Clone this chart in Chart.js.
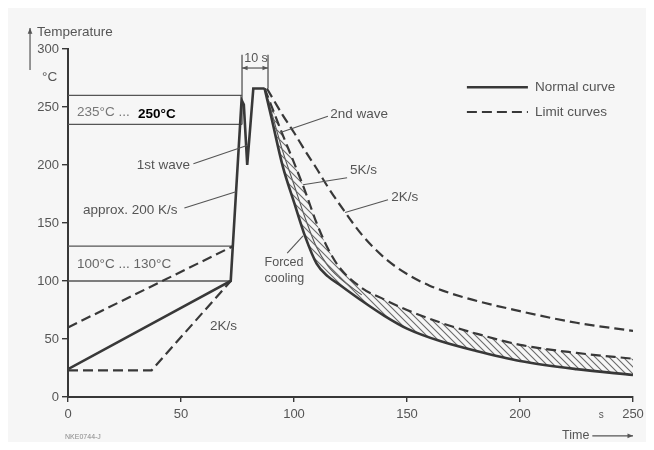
<!DOCTYPE html>
<html lang="en">
<head>
<meta charset="UTF-8">
<title>Wave soldering profile</title>
<script src="https://cdn.jsdelivr.net/npm/chart.js"></script>
<style>
  html, body { margin: 0; padding: 0; background: #fff; }
  #wrap { width: 654px; height: 450px; }
</style>
</head>
<body>
<div id="wrap"><canvas id="profileChart"></canvas></div>
<script>
// tick labels
const timeTicks = [0, 50, 100, 150, 200, 250];
const tempTicks = [0, 50, 100, 150, 200, 250, 300];

// normal curve: preheat, 1st wave, 2nd wave
const normalTime = [0, 72, 76.8, 77.8, 79.3, 82, 87];
const normalTemp = [24, 100, 256, 252, 200, 266, 266];

// cooling, same time base for both edges of the hatched band
const coolTime   = [87, 90, 95, 100, 105, 110, 115, 120, 130, 140, 150, 165, 180, 200, 225, 250];
const coolNormal = [266, 241, 199, 168, 138, 115, 104, 97, 83, 70, 59, 48, 40, 31, 24, 19];
const cool5Ks    = [266, 251, 226, 202, 177, 150, 128, 112, 94, 84, 75, 64, 55, 45, 38, 33];

// thin line inside the band near the peak
const midTime = [87, 90, 95, 100, 105, 110, 115, 120, 130];
const midTemp = [266, 246, 212, 183, 154, 129, 113, 103, 88];

// 2 K/s limit curve
const slowTime = [88, 95, 100, 105, 110, 115, 122, 130, 140, 150, 160, 175, 200, 225, 250];
const slowTemp = [266, 243, 228, 212, 197, 181, 161, 140, 120, 106, 96, 86, 74, 64, 57];

// preheat limit curves
const upperTime = [0, 73];
const upperTemp = [60, 130];
const lowerTime = [0, 37, 72];
const lowerTemp = [23, 23, 100];

// reference temperatures (235..260 wave, 100..130 preheat) and where they stop
const refTemps = [260, 235, 130, 100];
const refEnds  = [77, 77, 73, 72];

// "10 s" bracket
const bracketTime = [77, 88.5];
const bracketFrom = [235, 266];
const bracketTop = 295;

const ink = '#383838';
const textCol = '#555';
const fontFam = '"Liberation Sans", Arial, sans-serif';

function pts(xs, ys) {
    return xs.map((x, i) => ({ x: x, y: ys[i] }));
}

// diagonal hatch for the band
function hatch() {
    const c = document.createElement('canvas');
    c.width = 7; c.height = 7;
    const g = c.getContext('2d');
    g.strokeStyle = '#6a6a6a';
    g.lineWidth = 1.1;
    g.beginPath();
    g.moveTo(-1, -1); g.lineTo(8, 8);
    g.moveTo(-1, 6); g.lineTo(1, 8);
    g.moveTo(6, -1); g.lineTo(8, 1);
    g.stroke();
    return g.createPattern(c, 'repeat');
}

const solid = { borderColor: ink, borderWidth: 2.6, pointRadius: 0, fill: false, tension: 0 };
const dashed = { borderColor: ink, borderWidth: 2.2, borderDash: [10, 5], pointRadius: 0, fill: false, tension: 0 };
const thin = { borderColor: '#555', borderWidth: 1.3, pointRadius: 0, fill: false, tension: 0 };

const datasets = [
    Object.assign({ data: pts(normalTime, normalTemp) }, solid),
    Object.assign({ data: pts(coolTime, coolNormal), cubicInterpolationMode: 'monotone' }, solid),
    Object.assign({ data: pts(coolTime, cool5Ks), cubicInterpolationMode: 'monotone' }, dashed,
        { fill: { target: 1 }, backgroundColor: hatch() }),
    Object.assign({ data: pts(midTime, midTemp), cubicInterpolationMode: 'monotone' }, thin, { borderWidth: 1.1 }),
    Object.assign({ data: pts(slowTime, slowTemp), cubicInterpolationMode: 'monotone' }, dashed),
    Object.assign({ data: pts(upperTime, upperTemp) }, dashed),
    Object.assign({ data: pts(lowerTime, lowerTemp) }, dashed)
];
refTemps.forEach((t, i) => {
    datasets.push(Object.assign({ data: [{ x: 0, y: t }, { x: refEnds[i], y: t }] }, thin));
});
bracketTime.forEach((t, i) => {
    datasets.push(Object.assign({ data: [{ x: t, y: bracketFrom[i] }, { x: t, y: bracketTop }] }, thin));
});

// texts in data units (s, °C)
const notes = [
    { t: 'Temperature', x: -13.7, y: 314.5 },
    { t: '°C', x: -11.5, y: 276 },
    { t: '10 s', x: 83.2, y: 292, align: 'center', size: 12.5 },
    { t: '235°C ...', x: 4, y: 245.5, col: '#777' },
    { t: '250°C', x: 31, y: 243.5, col: '#000', bold: true },
    { t: '1st wave', x: 54, y: 200, align: 'right' },
    { t: 'approx. 200 K/s', x: 6.6, y: 161 },
    { t: '100°C ... 130°C', x: 4, y: 114.7, col: '#666' },
    { t: '2K/s', x: 62.8, y: 61 },
    { t: 'Forced', x: 87, y: 116, size: 12.5 },
    { t: 'cooling', x: 87, y: 102.5, size: 12.5 },
    { t: '2nd wave', x: 116, y: 244 },
    { t: '5K/s', x: 124.8, y: 195.7 },
    { t: '2K/s', x: 143, y: 172.4 },
    { t: 'Normal curve', x: 206.6, y: 267 },
    { t: 'Limit curves', x: 206.6, y: 245.7 },
    { t: 's', x: 236, y: -15.5, align: 'center', size: 10 },
    { t: 'Time', x: 218.6, y: -33.5, size: 12.5 },
    { t: 'NKE0744-J', x: -1.3, y: -34.5, size: 7, col: '#888' }
];
const leaders = [
    [55.5, 201, 79.5, 217],
    [51.5, 163, 74.3, 177],
    [97, 124, 104, 139],
    [115, 242, 94, 228],
    [123.5, 189, 104, 183],
    [141.6, 170, 122.6, 159]
];

const annotate = {
    id: 'annotate',
    beforeDraw(chart) {
        const c = chart.ctx;
        c.save();
        c.fillStyle = '#fff';
        c.fillRect(0, 0, chart.width, chart.height);
        c.fillStyle = '#f6f6f6';
        c.fillRect(8, 8, chart.width - 16, chart.height - 16);
        c.restore();
    },
    afterDraw(chart) {
        const c = chart.ctx;
        const sx = chart.scales.x, sy = chart.scales.y;
        const X = v => sx.getPixelForValue(v), Y = v => sy.getPixelForValue(v);
        c.save();
        c.strokeStyle = '#555';
        c.lineWidth = 1.1;
        leaders.forEach(l => {
            c.beginPath();
            c.moveTo(X(l[0]), Y(l[1]));
            c.lineTo(X(l[2]), Y(l[3]));
            c.stroke();
        });

        // legend samples
        c.strokeStyle = ink;
        c.lineWidth = 2.6;
        c.beginPath(); c.moveTo(X(176.5), Y(267)); c.lineTo(X(203.5), Y(267)); c.stroke();
        c.lineWidth = 2.2;
        c.setLineDash([10, 5]);
        c.beginPath(); c.moveTo(X(176.5), Y(245.7)); c.lineTo(X(203.5), Y(245.7)); c.stroke();
        c.setLineDash([]);

        // arrows
        function arrow(x1, y1, x2, y2, both) {
            const a = Math.atan2(y2 - y1, x2 - x1);
            c.beginPath(); c.moveTo(x1, y1); c.lineTo(x2, y2); c.stroke();
            const head = (x, y, ang) => {
                c.beginPath();
                c.moveTo(x, y);
                c.lineTo(x - 6 * Math.cos(ang - 0.4), y - 6 * Math.sin(ang - 0.4));
                c.lineTo(x - 6 * Math.cos(ang + 0.4), y - 6 * Math.sin(ang + 0.4));
                c.closePath(); c.fill();
            };
            head(x2, y2, a);
            if (both) head(x1, y1, a + Math.PI);
        }
        c.fillStyle = '#555';
        c.strokeStyle = '#555';
        c.lineWidth = 1.2;
        arrow(X(-16.8), Y(282), X(-16.8), Y(318));
        arrow(X(77), Y(283.6), X(88.5), Y(283.6), true);
        arrow(X(232), Y(-33.5), X(250), Y(-33.5));

        c.textBaseline = 'middle';
        notes.forEach(n => {
            c.font = (n.bold ? 'bold ' : '') + (n.size || 13.5) + 'px ' + fontFam;
            c.fillStyle = n.col || textCol;
            c.textAlign = n.align || 'left';
            c.fillText(n.t, X(n.x), Y(n.y));
        });
        c.restore();
    }
};

new Chart(document.getElementById('profileChart').getContext('2d'), {
    type: 'line',
    data: { datasets: datasets },
    options: {
        responsive: true,
        maintainAspectRatio: false,
        animation: false,
        events: [],
        layout: { padding: { top: 49, right: 21, left: 0, bottom: 0 } },
        plugins: { legend: { display: false }, tooltip: { enabled: false } },
        scales: {
            x: {
                type: 'linear', min: 0, max: 250,
                afterBuildTicks: s => { s.ticks = timeTicks.map(v => ({ value: v })); },
                afterFit: s => { s.height = 53; },
                grid: { drawOnChartArea: false, drawTicks: true, tickLength: 5, color: ink, lineWidth: 1.4 },
                border: { color: ink, width: 2 },
                ticks: { color: textCol, font: { family: fontFam, size: 13 }, padding: 5, maxRotation: 0 }
            },
            y: {
                type: 'linear', min: 0, max: 300,
                afterBuildTicks: s => { s.ticks = tempTicks.map(v => ({ value: v })); },
                afterFit: s => { s.width = 68; },
                grid: { drawOnChartArea: false, drawTicks: true, tickLength: 6, color: ink, lineWidth: 1.4 },
                border: { color: ink, width: 2 },
                ticks: { color: textCol, font: { family: fontFam, size: 13 }, padding: 3 }
            }
        }
    },
    plugins: [annotate]
});
</script>
</body>
</html>
